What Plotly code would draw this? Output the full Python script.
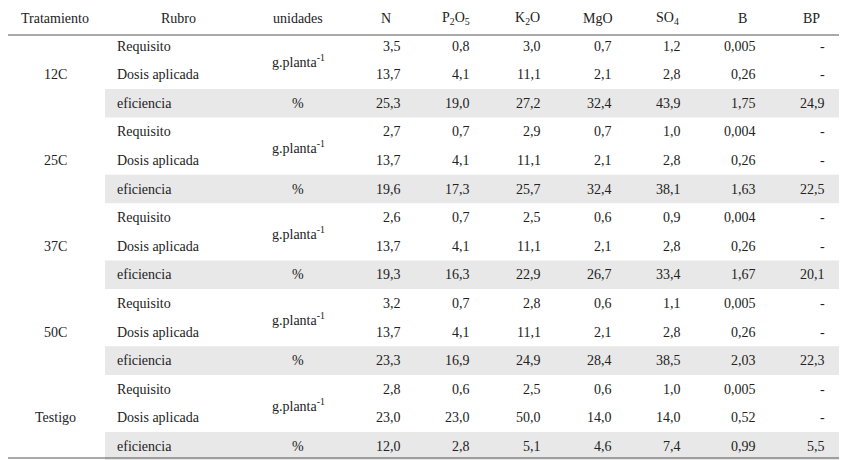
import plotly.graph_objects as go

tratamientos = ["12C", "25C", "37C", "50C", "Testigo"]
rubros = ["Requisito", "Dosis aplicada", "eficiencia"]
columnas = ["N", "P<sub>2</sub>O<sub>5</sub>", "K<sub>2</sub>O", "MgO", "SO<sub>4</sub>", "B", "BP"]
valores = [
    [["3,5","0,8","3,0","0,7","1,2","0,005","-"],["13,7","4,1","11,1","2,1","2,8","0,26","-"],["25,3","19,0","27,2","32,4","43,9","1,75","24,9"]],
    [["2,7","0,7","2,9","0,7","1,0","0,004","-"],["13,7","4,1","11,1","2,1","2,8","0,26","-"],["19,6","17,3","25,7","32,4","38,1","1,63","22,5"]],
    [["2,6","0,7","2,5","0,6","0,9","0,004","-"],["13,7","4,1","11,1","2,1","2,8","0,26","-"],["19,3","16,3","22,9","26,7","33,4","1,67","20,1"]],
    [["3,2","0,7","2,8","0,6","1,1","0,005","-"],["13,7","4,1","11,1","2,1","2,8","0,26","-"],["23,3","16,9","24,9","28,4","38,5","2,03","22,3"]],
    [["2,8","0,6","2,5","0,6","1,0","0,005","-"],["23,0","23,0","50,0","14,0","14,0","0,52","-"],["12,0","2,8","5,1","4,6","7,4","0,99","5,5"]],
]

F = dict(family="Liberation Serif", size=14, color="#222")
fig = go.Figure()
fig.update_layout(width=847, height=460, margin=dict(l=0, r=0, t=0, b=0),
                  plot_bgcolor="white", paper_bgcolor="white", showlegend=False,
                  xaxis=dict(range=[8, 855], visible=False),
                  yaxis=dict(range=[468, 8], visible=False))
shapes, ann = [], []
def t(x, y, s, anchor="center"):
    ann.append(dict(x=x, y=y, text=s, showarrow=False, xanchor=anchor, yanchor="middle", font=F))

hdr_x = [386, 456, 527, 598, 667, 742, 811]
val_x = [403, 472, 543, 614, 683, 758, 827]
t(55, 18, "Tratamiento"); t(178, 18, "Rubro"); t(298, 18, "unidades")
for c, x in zip(columnas, hdr_x):
    t(x, 18, c)
h = 28.6
for i, tr in enumerate(tratamientos):
    y0 = 46 + 3 * h * i
    shapes.append(dict(type="rect", x0=105, x1=845, y0=y0 + 2*h - h/2, y1=y0 + 2*h + h/2,
                       fillcolor="#e8e8e8", line=dict(width=0), layer="below"))
    t(55, y0 + h, tr)
    t(298, y0 + h/2 + 1, "g.planta<sup>-1</sup>")
    t(298, y0 + 2*h, "%")
    for j, r in enumerate(rubros):
        y = y0 + j * h
        t(115, y, r, "left")
        for v, x in zip(valores[i][j], val_x):
            t(x, y, v, "right")
for y in [4, 35, 458]:
    shapes.append(dict(type="line", x0=0, x1=847, y0=y, y1=y, line=dict(color="#555", width=1)))
fig.update_layout(shapes=shapes, annotations=ann)
fig.write_html("out.html")
